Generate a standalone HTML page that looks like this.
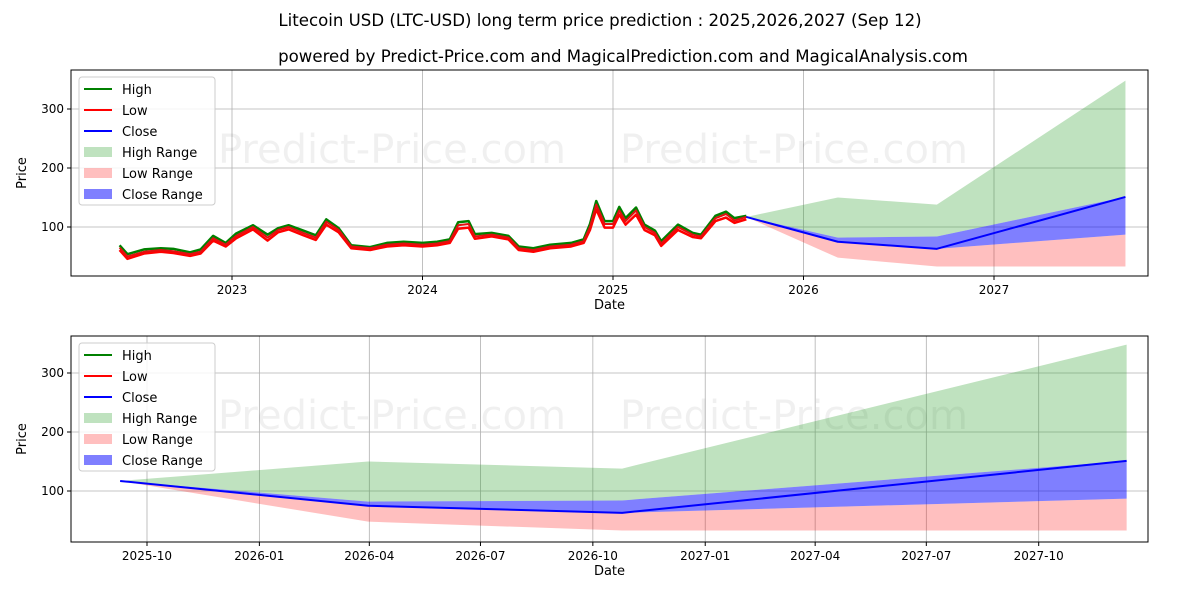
<!DOCTYPE html>
<html><head><meta charset="utf-8"><style>
body{margin:0;background:#fff;font-family:"DejaVu Sans",sans-serif;}
svg text{font-family:"DejaVu Sans",sans-serif;}
</style></head><body>
<svg id="c" width="1200" height="600" xmlns="http://www.w3.org/2000/svg">
<text x="600" y="26" text-anchor="middle" font-size="16.6">Litecoin USD (LTC-USD) long term price prediction : 2025,2026,2027 (Sep 12)</text>
<text x="623" y="62" text-anchor="middle" font-size="16.6">powered by Predict-Price.com and MagicalPrediction.com and MagicalAnalysis.com</text>
</svg>
<script>
// historical data (fractional years)
const histT=[2022.41,2022.451,2022.538,2022.626,2022.692,2022.780,2022.835,2022.901,2022.967,2023.022,2023.110,2023.187,2023.242,2023.297,2023.374,2023.440,2023.495,2023.560,2023.626,2023.725,2023.813,2023.901,2024.0,2024.077,2024.143,2024.187,2024.242,2024.275,2024.363,2024.451,2024.505,2024.582,2024.670,2024.780,2024.846,2024.879,2024.912,2024.956,2025.0,2025.033,2025.066,2025.121,2025.165,2025.220,2025.253,2025.341,2025.418,2025.462,2025.538,2025.593,2025.637,2025.70];
const histClose=[65,50,58,61,59,54,58,81,70,85,100,82,95,100,90,82,109,95,67,64,70,72,70,72,76,103,105,84,87,82,64,61,67,70,76,100,138,105,105,128,110,128,100,90,72,100,87,84,115,122,111,117];
const histHigh=[69,54,62,64,63,57,62,85,73,89,103,87,98,103,94,86,113,98,69,66,73,75,73,75,79,108,110,88,90,85,67,64,70,73,79,105,144,110,110,134,115,133,104,94,76,104,90,87,119,126,115,119];
const histLow=[61,46,55,58,56,51,55,77,67,81,96,77,91,96,86,78,104,91,64,61,67,69,67,69,73,97,99,80,84,79,61,58,64,67,73,95,130,99,99,121,104,121,95,86,68,95,83,81,110,116,107,113];
// prediction (top chart: fractional years; bottom chart: days from 2025-10-01)
const predT=[2025.70,2026.18,2026.70,2027.69];
const predDays=[-22,181,389,802];
const predHigh=[117,150,138,348];
const predLow=[117,48,33,33];
const predClose=[117,75,63,151];
const predCloseHi=[117,82,84,151];
const predCloseLo=[117,75,63,87];
const yTicks=[100,200,300];
const topXTicks=[2023,2024,2025,2026,2027];
const botXTickDays=[0,92,182,273,365,457,547,638,730];
const botXTickLabels=["2025-10","2026-01","2026-04","2026-07","2026-10","2027-01","2027-04","2027-07","2027-10"];

const svg=document.getElementById('c');
const NS='http://www.w3.org/2000/svg';
function mk(tag,attrs,parent){const e=document.createElementNS(NS,tag);for(const k in attrs)e.setAttribute(k,attrs[k]);(parent||svg).appendChild(e);return e;}
const L=71,R=1148;
function panel(top,bot,xf,yf,xTicks,xLabels,predX,name,withHist){
  const g=mk('g',{});
  
  
  xTicks.forEach((t,i)=>{const x=xf(t);
    const ln=mk('line',{x1:x,x2:x,y1:top,y2:bot,stroke:'#b0b0b0','stroke-width':0.8},g);
    
    mk('line',{x1:x,x2:x,y1:bot,y2:bot+4,stroke:'#000'},g);
    const tx=mk('text',{x:x,y:bot+18,'text-anchor':'middle','font-size':12},g);tx.textContent=xLabels[i];
    });
  yTicks.forEach(v=>{const y=yf(v);
    const ln=mk('line',{x1:L,x2:R,y1:y,y2:y,stroke:'#b0b0b0','stroke-width':0.8},g);
    
    mk('line',{x1:L-4,x2:L,y1:y,y2:y,stroke:'#000'},g);
    const tx=mk('text',{x:L-7,y:y+4,'text-anchor':'end','font-size':12},g);tx.textContent=v;
    });
  [[218,top+93],[620,top+93]].forEach(p=>{const w=mk('text',{x:p[0],y:p[1],'font-size':40,fill:'#000','fill-opacity':0.06},g);w.textContent='Predict-Price.com';
    });
  function area(hi,lo,fill,op,nm){let d='';predX.forEach((t,i)=>d+=(i?'L':'M')+xf(t)+','+yf(hi[i]));
    for(let i=predX.length-1;i>=0;i--)d+='L'+xf(predX[i])+','+yf(lo[i]);
    const p=mk('path',{d:d+'Z',fill:fill,'fill-opacity':op},g);}
  area(predHigh,predCloseHi,'#2ca02c',0.3,'high-range');
  area(predCloseLo,predLow,'#ff0000',0.25,'low-range');
  area(predCloseHi,predCloseLo,'#0000ff',0.5,'close-range');
  function line(xs,ys,col,w,nm){const p=mk('polyline',{points:xs.map((t,i)=>xf(t)+','+yf(ys[i])).join(' '),fill:'none',stroke:col,'stroke-width':w,'stroke-linejoin':'round'},g);
    }
  if(withHist){line(histT,histHigh,'#008000',2.5,'high-line');line(histT,histLow,'#ff0000',2.5,'low-line');line(histT,histClose,'#e01010',2,'close-line-hist');}
  line(predX,predClose,'#0000ff',2,'close-line');
  mk('rect',{x:L,y:top,width:R-L,height:bot-top,fill:'none',stroke:'#000','stroke-width':1},g);
  const xl=mk('text',{x:(L+R)/2,y:bot+33,'text-anchor':'middle','font-size':13},g);xl.textContent='Date';
  
  const yl=mk('text',{x:26,y:(top+bot)/2,'text-anchor':'middle','font-size':13,transform:'rotate(-90 26 '+(top+bot)/2+')'},g);yl.textContent='Price';
  
  const lg=mk('g',{},g);
  
  mk('rect',{x:79,y:top+7,width:136,height:128,rx:3,fill:'#fff','fill-opacity':0.85,stroke:'#ccc'},lg);
  const items=[['High','line','#008000'],['Low','line','#ff0000'],['Close','line','#0000ff'],['High Range','box','rgba(44,160,44,0.3)'],['Low Range','box','rgba(255,0,0,0.25)'],['Close Range','box','rgba(0,0,255,0.5)']];
  items.forEach((it,i)=>{const y=top+19+i*21;
    const e=mk('g',{},lg);
    
    if(it[1]=='line')mk('line',{x1:84,x2:112,y1:y,y2:y,stroke:it[2],'stroke-width':2},e);
    else mk('rect',{x:84,y:y-5,width:28,height:10,fill:it[2]},e);
    const t=mk('text',{x:122,y:y+5,'font-size':13},e);t.textContent=it[0];});
}
const xTop=t=>232+(t-2023)*190.5, yTop=v=>286-0.59*v;
panel(70,276,xTop,yTop,topXTicks,topXTicks.map(String),predT,'top-panel',true);
const xBot=d=>147+d*1.2215, yBot=v=>550-0.59*v;
panel(336,542,xBot,yBot,botXTickDays,botXTickLabels,predDays,'bottom-panel',false);
</script>
</body></html>
